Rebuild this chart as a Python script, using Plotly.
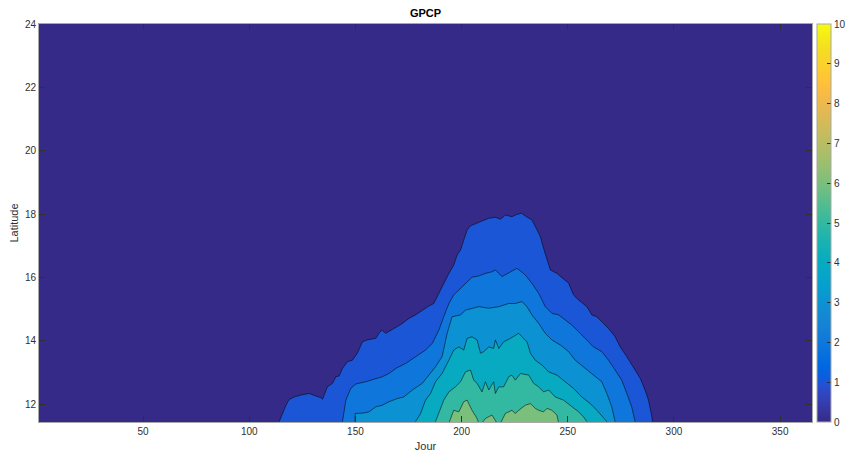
import plotly.graph_objects as go
from plotly.colors import sample_colorscale

# ---- data (day of year, latitude of each contour level) ----
levels = [1, 2, 3, 4, 5, 6]

day_1 = [114.1, 117.3, 118.8, 121.2, 124.3, 128.2, 131.4, 133.7, 134.5, 136.8, 139.2, 140.8, 142.3,
         143.9, 146.2, 148.6, 150.9, 153.3, 155.6, 158.0, 159.6, 161.1, 162.4, 164.3, 165.8, 168.2,
         172.1, 175.2, 178.3, 181.5, 184.6, 186.9, 189.3, 191.6, 194.0, 196.3, 197.9, 199.5, 201.8,
         202.6, 204.2, 207.3, 209.6, 212.8, 215.9, 218.3, 220.6, 223.7, 225.3, 228.2, 230.0, 233.1,
         234.7, 237.1, 238.6, 240.2, 241.8, 244.9, 248.0, 250.4, 252.7, 255.1, 259.0, 261.3, 263.7,
         266.0, 269.2, 272.3, 274.7, 277.8, 280.9, 284.1, 286.4, 288.0, 289.3, 289.9]
lat_1 = [11.45, 11.97, 12.15, 12.23, 12.29, 12.34, 12.26, 12.21, 12.16, 12.55, 12.66, 12.87, 12.89,
         13.13, 13.34, 13.39, 13.61, 13.97, 14.03, 14.05, 14.08, 14.24, 14.34, 14.24, 14.29, 14.39,
         14.55, 14.71, 14.82, 14.97, 15.10, 15.18, 15.50, 15.82, 16.13, 16.39, 16.71, 16.87, 17.29,
         17.50, 17.63, 17.71, 17.79, 17.87, 17.90, 17.84, 17.97, 17.92, 17.97, 18.03, 17.94, 17.82,
         17.61, 17.29, 16.92, 16.61, 16.24, 16.13, 15.97, 15.82, 15.45, 15.29, 15.08, 14.82, 14.76,
         14.60, 14.39, 14.13, 13.81, 13.50, 13.18, 12.82, 12.45, 12.13, 11.71, 11.45]

day_2 = [143.9, 145.5, 147.8, 150.2, 154.9, 159.6, 162.7, 165.8, 169.0, 173.7, 178.3, 183.0, 186.2,
         189.3, 191.6, 194.0, 196.3, 199.5, 201.8, 204.9, 208.1, 211.2, 214.3, 215.9, 219.0, 222.2,
         226.1, 230.0, 233.1, 236.3, 239.4, 242.5, 245.7, 248.8, 251.9, 255.1, 258.2, 262.1, 266.0,
         269.2, 272.3, 275.4, 277.8, 280.1, 281.7]
lat_2 = [11.45, 12.13, 12.50, 12.64, 12.71, 12.82, 12.87, 12.97, 13.13, 13.29, 13.50, 13.71, 13.92,
         14.34, 14.76, 15.18, 15.45, 15.66, 15.82, 16.01, 16.05, 16.13, 16.18, 16.24, 16.03, 16.15,
         16.29, 16.08, 15.82, 15.50, 15.08, 14.87, 14.82, 14.66, 14.50, 14.29, 14.08, 13.81, 13.66,
         13.39, 13.08, 12.76, 12.34, 11.92, 11.45]

day_3 = [149.8, 149.9, 153.3, 156.4, 159.6, 162.7, 165.8, 169.7, 172.8, 176.8, 181.5, 184.6, 187.7,
         190.8, 193.2, 195.5, 199.5, 201.8, 204.9, 208.1, 212.8, 217.5, 222.2, 225.3, 228.4, 230.8,
         233.1, 236.3, 239.4, 242.5, 246.5, 250.4, 253.5, 257.4, 261.3, 266.0, 268.4, 270.7, 272.3]
lat_3 = [11.45, 11.71, 11.72, 11.76, 11.92, 11.97, 12.08, 12.18, 12.23, 12.45, 12.66, 12.92, 13.18,
         13.50, 14.24, 14.76, 14.82, 14.97, 15.03, 15.08, 15.03, 15.08, 15.18, 15.18, 15.24, 15.08,
         14.82, 14.55, 14.24, 14.03, 13.87, 13.66, 13.39, 13.18, 12.97, 12.71, 12.34, 11.92, 11.45]

day_4 = [178.3, 180.7, 183.0, 185.4, 187.7, 190.8, 194.0, 196.3, 198.7, 201.0, 202.6, 204.9, 207.3,
         208.9, 210.4, 212.8, 215.1, 215.9, 217.5, 219.8, 223.0, 225.3, 226.9, 228.4, 230.8, 232.4,
         234.7, 237.8, 241.0, 244.9, 248.8, 252.7, 256.6, 260.6, 263.7, 266.8, 268.4]
lat_4 = [11.45, 11.71, 12.13, 12.34, 12.71, 12.97, 13.39, 13.71, 13.81, 13.71, 14.08, 14.13, 14.03,
         13.61, 13.66, 13.81, 13.76, 14.03, 13.76, 13.97, 14.08, 14.18, 14.24, 14.13, 13.97, 13.61,
         13.39, 13.24, 13.02, 12.92, 12.71, 12.50, 12.23, 12.02, 11.81, 11.55, 11.45]

day_5 = [187.7, 189.3, 191.6, 194.0, 197.1, 199.5, 201.8, 204.2, 205.7, 207.3, 209.6, 211.2, 212.8,
         215.1, 215.9, 217.5, 219.8, 222.2, 223.7, 225.3, 227.7, 231.6, 233.9, 236.3, 238.6, 241.0,
         244.1, 248.0, 251.9, 255.1, 257.4, 259.0]
lat_5 = [11.45, 11.71, 12.13, 12.39, 12.55, 12.71, 13.02, 13.08, 12.76, 12.66, 12.39, 12.71, 12.45,
         12.71, 12.34, 12.55, 12.55, 12.87, 12.92, 12.76, 12.97, 12.92, 12.66, 12.55, 12.39, 12.45,
         12.23, 12.13, 11.92, 11.76, 11.60, 11.45]

day_6 = [194.0, 196.3, 198.7, 201.0, 202.6, 204.9, 207.2, 208.1, 209.5, 211.2, 214.3, 216.7, 218.3,
         220.6, 223.7, 225.3, 226.9, 230.0, 232.4, 234.7, 236.3, 238.6, 240.2, 242.5, 244.9, 245.7]
lat_6 = [11.40, 11.81, 11.76, 12.08, 12.13, 11.81, 11.56, 11.40, 11.40, 11.55, 11.66, 11.40, 11.40,
         11.71, 11.81, 11.71, 11.81, 11.97, 12.02, 11.87, 11.81, 11.76, 11.87, 11.81, 11.66, 11.40]

x_ticks = [50, 100, 150, 200, 250, 300, 350]
y_ticks = [12, 14, 16, 18, 20, 22, 24]
cbar_ticks = [0, 1, 2, 3, 4, 5, 6, 7, 8, 9, 10]

# ---- MATLAB parula colormap ----
parula_rgb = [
    (0.2081, 0.1663, 0.5292), (0.2116, 0.1898, 0.5777), (0.2123, 0.2138, 0.6270), (0.2081, 0.2386, 0.6771),
    (0.1959, 0.2645, 0.7279), (0.1707, 0.2919, 0.7792), (0.1253, 0.3242, 0.8303), (0.0591, 0.3598, 0.8683),
    (0.0117, 0.3875, 0.8820), (0.0060, 0.4086, 0.8828), (0.0165, 0.4266, 0.8786), (0.0329, 0.4430, 0.8720),
    (0.0498, 0.4586, 0.8641), (0.0629, 0.4737, 0.8554), (0.0723, 0.4887, 0.8467), (0.0779, 0.5040, 0.8384),
    (0.0793, 0.5200, 0.8312), (0.0749, 0.5375, 0.8263), (0.0641, 0.5570, 0.8240), (0.0488, 0.5772, 0.8228),
    (0.0343, 0.5966, 0.8199), (0.0265, 0.6137, 0.8135), (0.0239, 0.6287, 0.8038), (0.0231, 0.6418, 0.7913),
    (0.0228, 0.6535, 0.7768), (0.0267, 0.6642, 0.7607), (0.0384, 0.6743, 0.7436), (0.0590, 0.6838, 0.7254),
    (0.0843, 0.6928, 0.7062), (0.1133, 0.7015, 0.6859), (0.1453, 0.7098, 0.6646), (0.1801, 0.7177, 0.6424),
    (0.2178, 0.7250, 0.6193), (0.2586, 0.7317, 0.5954), (0.3022, 0.7376, 0.5712), (0.3482, 0.7424, 0.5473),
    (0.3953, 0.7459, 0.5244), (0.4420, 0.7481, 0.5033), (0.4871, 0.7491, 0.4840), (0.5300, 0.7491, 0.4661),
    (0.5709, 0.7485, 0.4494), (0.6099, 0.7473, 0.4337), (0.6473, 0.7456, 0.4188), (0.6834, 0.7435, 0.4044),
    (0.7184, 0.7411, 0.3905), (0.7525, 0.7384, 0.3768), (0.7858, 0.7356, 0.3633), (0.8185, 0.7327, 0.3498),
    (0.8507, 0.7299, 0.3360), (0.8824, 0.7274, 0.3217), (0.9139, 0.7258, 0.3063), (0.9450, 0.7261, 0.2886),
    (0.9739, 0.7314, 0.2666), (0.9938, 0.7455, 0.2403), (0.9990, 0.7653, 0.2164), (0.9955, 0.7861, 0.1967),
    (0.9880, 0.8066, 0.1794), (0.9789, 0.8271, 0.1633), (0.9697, 0.8481, 0.1475), (0.9626, 0.8705, 0.1309),
    (0.9589, 0.8949, 0.1132), (0.9598, 0.9218, 0.0948), (0.9661, 0.9514, 0.0755), (0.9763, 0.9831, 0.0538),
]
n = len(parula_rgb)
parula = [[i / (n - 1), "rgb(%d,%d,%d)" % tuple(round(c * 255) for c in rgb)]
          for i, rgb in enumerate(parula_rgb)]

CMIN, CMAX = 0, 10
band_colors = sample_colorscale(parula, [(lv - CMIN) / (CMAX - CMIN) for lv in levels])
bg_color = parula[0][1]

days = [day_1, day_2, day_3, day_4, day_5, day_6]
lats = [lat_1, lat_2, lat_3, lat_4, lat_5, lat_6]

FONT = "Liberation Sans, Arial, Helvetica, sans-serif"
TXT = "#303030"
AXLINE = "#a8a8a8"

fig = go.Figure()
for lv, dx, ly, col in zip(levels, days, lats, band_colors):
    fig.add_trace(go.Scatter(
        x=dx, y=ly, mode="lines", fill="tozeroy", fillcolor=col,
        line=dict(color="rgba(0,0,0,0.75)", width=0.7),
        hoverinfo="skip", showlegend=False,
    ))

# invisible trace carrying the continuous colorbar
fig.add_trace(go.Scatter(
    x=day_1, y=lat_1, mode="markers",
    marker=dict(size=1, opacity=0, color=[levels[0]] * len(day_1),
                colorscale=parula, cmin=CMIN, cmax=CMAX, showscale=True,
                colorbar=dict(
                    thickness=14, thicknessmode="pixels", len=1, lenmode="fraction",
                    y=0.5, yanchor="middle", yref="paper", x=1.006, xanchor="left", xref="paper",
                    xpad=0, ypad=0, outlinewidth=1, outlinecolor=AXLINE,
                    tickvals=cbar_ticks, ticks="inside", ticklen=4, tickcolor=TXT, tickwidth=0.8,
                    tickfont=dict(size=10, color=TXT, family=FONT),
                )),
    hoverinfo="skip", showlegend=False,
))

fig.update_layout(
    width=847, height=454,
    margin=dict(l=39.3, r=34.7, t=24.3, b=32.3, autoexpand=False),
    paper_bgcolor="white", plot_bgcolor=bg_color,
    font=dict(family=FONT, size=10, color=TXT),
    title=dict(text="<b>GPCP</b>", x=0.5, xref="paper", xanchor="center",
               y=1 - 13.5 / 454, yref="container", yanchor="middle",
               font=dict(size=11, color="#000000", family=FONT)),
    xaxis=dict(range=[1, 365], tickvals=x_ticks, ticks="inside", ticklen=6, tickcolor=TXT,
               tickwidth=0.8, showline=True, linecolor=AXLINE, linewidth=1, mirror="ticks",
               showgrid=False, zeroline=False,
               tickfont=dict(size=10, color=TXT),
               title=dict(text="Jour", font=dict(size=11, color=TXT), standoff=6)),
    yaxis=dict(range=[11.44, 24], tickvals=y_ticks, ticks="inside", ticklen=6, tickcolor=TXT,
               tickwidth=0.8, showline=True, linecolor=AXLINE, linewidth=1, mirror="ticks",
               showgrid=False, zeroline=False,
               tickfont=dict(size=10, color=TXT),
               title=dict(text="Latitude", font=dict(size=11, color=TXT), standoff=4)),
)

fig.write_html("out.html")
